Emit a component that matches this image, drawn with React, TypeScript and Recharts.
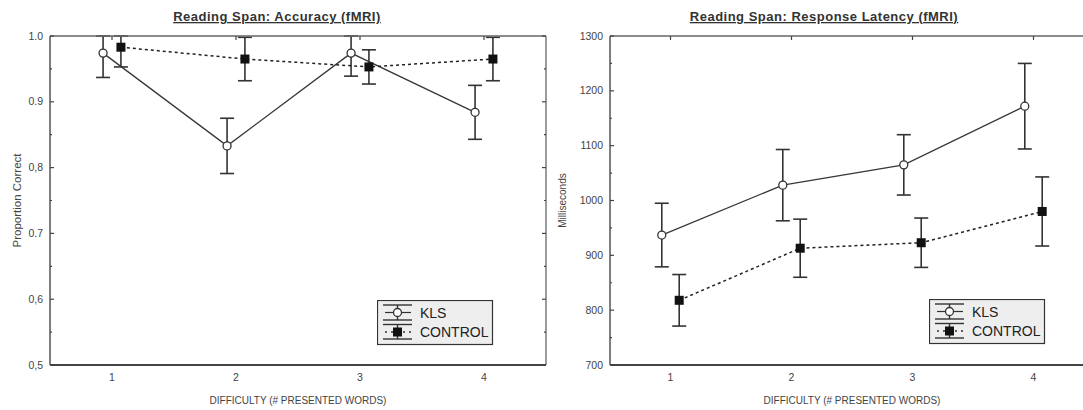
import React from 'react';
import { LineChart, Line, XAxis, YAxis, ErrorBar, Legend, Label } from 'recharts';

// ---------- data ----------
const difficulty = [1, 2, 3, 4];

const klsAccuracy = [0.974, 0.833, 0.974, 0.884];
const klsAccuracyErr = [0.037, 0.042, 0.035, 0.041];
const controlAccuracy = [0.983, 0.965, 0.953, 0.965];
const controlAccuracyErr = [0.03, 0.033, 0.026, 0.033];

const klsLatency = [937, 1028, 1065, 1172];
const klsLatencyErr = [58, 65, 55, 78];
const controlLatency = [818, 913, 923, 980];
const controlLatencyErr = [47, 53, 45, 63];

const accuracyTicks = [0.5, 0.6, 0.7, 0.8, 0.9, 1.0];
const accuracyMinorTicks = [0.55, 0.65, 0.75, 0.85, 0.95];
const accuracyTickLabels = ['0,5', '0,6', '0.7', '0,8', '0.9', '1.0'];

const latencyTicks = [700, 800, 900, 1000, 1100, 1200, 1300];
const latencyMinorTicks = [750, 850, 950, 1050, 1150, 1250];
const latencyTickLabels = ['700', '800', '900', '1000', '1100', '1200', '1300'];

const seriesNames = ['KLS', 'CONTROL'];

// ---------- style ----------
const FONT = '"Liberation Sans", Arial, Helvetica, sans-serif';
const DODGE = 0.072;
const Y_TICK_MARGIN = 7;

function buildRows(kls: number[], klsErr: number[], ctl: number[], ctlErr: number[]) {
  return difficulty.map((x, i) => ({
    x,
    kls: kls[i],
    klsErr: klsErr[i],
    ctl: ctl[i],
    ctlErr: ctlErr[i],
  }));
}

const accuracyRows = buildRows(klsAccuracy, klsAccuracyErr, controlAccuracy, controlAccuracyErr);
const latencyRows = buildRows(klsLatency, klsLatencyErr, controlLatency, controlLatencyErr);

// ---------- ticks ----------
const LeftTick = (props: any) => {
  const { x, y, label, major } = props;
  const axisX = x + Y_TICK_MARGIN;
  return (
    <g>
      <line x1={axisX} x2={axisX + (major ? 4 : 2)} y1={y} y2={y} stroke="#444" strokeWidth={1.2} />
      {label != null && (
        <text x={x} y={y} dy={3.6} textAnchor="end" fontSize={10.5} fill="#444" fontFamily={FONT}>
          {label}
        </text>
      )}
    </g>
  );
};

const RightTick = (props: any) => {
  const { x, y, major } = props;
  return <line x1={x} x2={x - (major ? 4 : 2)} y1={y} y2={y} stroke="#444" strokeWidth={1.2} />;
};

const TopTick = (props: any) => {
  const { x, y } = props;
  return <line x1={x} x2={x} y1={y} y2={y + 4} stroke="#444" strokeWidth={1.2} />;
};

const SquareDot = (props: any) => {
  const { cx, cy, index } = props;
  if (cx == null || cy == null) return <g key={`sq-${index}`} />;
  return <rect key={`sq-${index}`} x={cx - 4.5} y={cy - 4.5} width={9} height={9} fill="#111" />;
};

// ---------- legend ----------
const LegendBox = () => {
  const ix = 20.5;
  return (
    <svg width={117} height={46} style={{ display: 'block' }}>
      <rect x={0.5} y={0.5} width={115} height={44} fill="#eeeeee" stroke="#333" strokeWidth={1.2} />
      {/* KLS icon */}
      <line x1={6} x2={35} y1={5} y2={5} stroke="#333" strokeWidth={1.4} />
      <line x1={6} x2={35} y1={20} y2={20} stroke="#333" strokeWidth={1.4} />
      <line x1={ix} x2={ix} y1={5} y2={20} stroke="#333" strokeWidth={1.4} />
      <line x1={8} x2={34} y1={12.5} y2={12.5} stroke="#333" strokeWidth={1.2} />
      <circle cx={ix} cy={12.5} r={4} fill="#fff" stroke="#333" strokeWidth={1.3} />
      <text x={43} y={12.5} dy={5} fontSize={14} fill="#222" fontFamily={FONT}>
        {seriesNames[0]}
      </text>
      {/* CONTROL icon */}
      <line x1={6} x2={35} y1={24.5} y2={24.5} stroke="#333" strokeWidth={1.4} />
      <line x1={6} x2={35} y1={39} y2={39} stroke="#333" strokeWidth={1.4} />
      <line x1={ix} x2={ix} y1={24.5} y2={39} stroke="#333" strokeWidth={1.4} />
      <line x1={8} x2={34} y1={32} y2={32} stroke="#333" strokeWidth={1.4} strokeDasharray="2 4" />
      <rect x={ix - 4.5} y={27.5} width={9} height={9} fill="#111" />
      <text x={43} y={32} dy={5} fontSize={14} fill="#222" fontFamily={FONT}>
        {seriesNames[1]}
      </text>
    </svg>
  );
};

// ---------- panel ----------
type PanelProps = {
  width: number;
  yAxisWidth: number;
  marginRight: number;
  rows: any[];
  domain: [number, number];
  majorTicks: number[];
  minorTicks: number[];
  tickLabels: string[];
  title: string;
  titleShift: number;
  yTitle: string;
  yTitleX: number;
  yTitleSize: number;
  legendLeft: number;
  legendTop: number;
};

function Panel(p: PanelProps) {
  const allTicks = [...p.majorTicks, ...p.minorTicks].sort((a, b) => a - b);
  const labelFor = (v: number) => {
    const i = p.majorTicks.indexOf(v);
    return i >= 0 ? p.tickLabels[i] : null;
  };
  const top = p.domain[1];
  // error bars are cut off at the top of the plotting frame, as in the original figure
  const klsError = (d: any) => [d.klsErr, Math.min(d.klsErr, top - d.kls)];
  const ctlError = (d: any) => [d.ctlErr, Math.min(d.ctlErr, top - d.ctl)];

  const TitleLabel = (lp: any) => {
    const vb = lp.viewBox || { x: 0, width: p.width };
    return (
      <text
        x={vb.x + vb.width / 2 + p.titleShift}
        y={21}
        textAnchor="middle"
        fontSize={13}
        letterSpacing={0.5}
        fontWeight="bold"
        fill="#333"
        fontFamily={FONT}
        style={{ textDecoration: 'underline' }}
      >
        {p.title}
      </text>
    );
  };

  const XTitleLabel = (lp: any) => {
    const vb = lp.viewBox || { x: 0, width: p.width };
    return (
      <text x={vb.x + vb.width / 2} y={404} textAnchor="middle" fontSize={10} fill="#444" fontFamily={FONT}>
        DIFFICULTY (# PRESENTED WORDS)
      </text>
    );
  };

  const YTitleLabel = (lp: any) => {
    const vb = lp.viewBox || { x: 0, y: 36, height: 329 };
    const cx = vb.x + p.yTitleX;
    const cy = vb.y + vb.height / 2;
    return (
      <text
        x={cx}
        y={cy}
        textAnchor="middle"
        dominantBaseline="central"
        transform={`rotate(-90 ${cx} ${cy})`}
        fontSize={p.yTitleSize}
        fill="#444"
        fontFamily={FONT}
      >
        {p.yTitle}
      </text>
    );
  };

  return (
    <LineChart width={p.width} height={410} data={p.rows} margin={{ top: 34, right: p.marginRight, bottom: 0, left: 0 }}>
      <XAxis
        xAxisId="bottom"
        dataKey="x"
        type="number"
        domain={[0.5, 4.5]}
        allowDataOverflow
        ticks={difficulty}
        interval={0}
        tickLine={false}
        tickSize={0}
        tickMargin={9}
        height={45}
        axisLine={{ stroke: '#444', strokeWidth: 2 }}
        tick={{ fontSize: 10.5, fill: '#444', fontFamily: FONT }}
      >
        <Label content={<XTitleLabel />} />
      </XAxis>
      <XAxis
        xAxisId="top"
        orientation="top"
        dataKey="x"
        type="number"
        domain={[0.5, 4.5]}
        allowDataOverflow
        ticks={difficulty}
        interval={0}
        tickLine={false}
        tickSize={0}
        tickMargin={0}
        height={2}
        axisLine={{ stroke: '#666', strokeWidth: 1.3 }}
        tick={(tp: any) => <TopTick {...tp} />}
      >
        <Label content={<TitleLabel />} />
      </XAxis>
      <XAxis xAxisId="kls" hide dataKey="x" type="number" domain={[0.5 + DODGE, 4.5 + DODGE]} allowDataOverflow />
      <XAxis xAxisId="ctl" hide dataKey="x" type="number" domain={[0.5 - DODGE, 4.5 - DODGE]} allowDataOverflow />
      <YAxis
        yAxisId="val"
        type="number"
        width={p.yAxisWidth}
        domain={p.domain}
        allowDataOverflow
        ticks={allTicks}
        interval={0}
        tickLine={false}
        tickSize={0}
        tickMargin={Y_TICK_MARGIN}
        axisLine={{ stroke: '#555', strokeWidth: 1.5 }}
        tick={(tp: any) => (
          <LeftTick {...tp} label={labelFor(tp.payload.value)} major={p.majorTicks.includes(tp.payload.value)} />
        )}
      >
        <Label content={<YTitleLabel />} />
      </YAxis>
      <YAxis
        yAxisId="frameR"
        orientation="right"
        type="number"
        width={2}
        domain={p.domain}
        allowDataOverflow
        ticks={allTicks}
        interval={0}
        tickLine={false}
        tickSize={0}
        tickMargin={0}
        axisLine={{ stroke: '#666', strokeWidth: 1.3 }}
        tick={(tp: any) => <RightTick {...tp} major={p.majorTicks.includes(tp.payload.value)} />}
      />
      <Line
        xAxisId="kls"
        yAxisId="val"
        dataKey="kls"
        name={seriesNames[0]}
        stroke="#383838"
        strokeWidth={1.3}
        dot={{ r: 4, fill: '#fff', stroke: '#333', strokeWidth: 1.3 }}
        activeDot={false}
        isAnimationActive={false}
      >
        <ErrorBar dataKey={klsError} direction="y" width={7} stroke="#333" strokeWidth={1.6} isAnimationActive={false} />
      </Line>
      <Line
        xAxisId="ctl"
        yAxisId="val"
        dataKey="ctl"
        name={seriesNames[1]}
        stroke="#222"
        strokeWidth={1.5}
        strokeDasharray="3 3"
        dot={(dp: any) => <SquareDot {...dp} key={`sq-${dp.index}`} />}
        activeDot={false}
        isAnimationActive={false}
      >
        <ErrorBar dataKey={ctlError} direction="y" width={7} stroke="#333" strokeWidth={1.6} isAnimationActive={false} />
      </Line>
      <Legend
        verticalAlign="middle"
        align="center"
        layout="horizontal"
        wrapperStyle={{ left: p.legendLeft, top: p.legendTop, width: 117, height: 46 }}
        content={() => <LegendBox />}
      />
    </LineChart>
  );
}

export default function App() {
  return (
    <div
      style={{
        position: 'absolute',
        left: 0,
        top: 0,
        width: 1083,
        height: 410,
        overflow: 'hidden',
        background: '#fff',
      }}
    >
      <div style={{ position: 'absolute', left: 0, top: 0 }}>
        <Panel
          width={550}
          yAxisWidth={50}
          marginRight={2}
          rows={accuracyRows}
          domain={[0.5, 1.0]}
          majorTicks={accuracyTicks}
          minorTicks={accuracyMinorTicks}
          tickLabels={accuracyTickLabels}
          title="Reading Span: Accuracy (fMRI)"
          titleShift={-21}
          yTitle="Proportion Correct"
          yTitleX={17}
          yTitleSize={11.5}
          legendLeft={377}
          legendTop={300}
        />
      </div>
      <div style={{ position: 'absolute', left: 550, top: 0 }}>
        <Panel
          width={560}
          yAxisWidth={60}
          marginRight={14}
          rows={latencyRows}
          domain={[700, 1300]}
          majorTicks={latencyTicks}
          minorTicks={latencyMinorTicks}
          tickLabels={latencyTickLabels}
          title="Reading Span: Response Latency (fMRI)"
          titleShift={-28}
          yTitle="Milliseconds"
          yTitleX={12}
          yTitleSize={10}
          legendLeft={379}
          legendTop={299}
        />
      </div>
    </div>
  );
}
